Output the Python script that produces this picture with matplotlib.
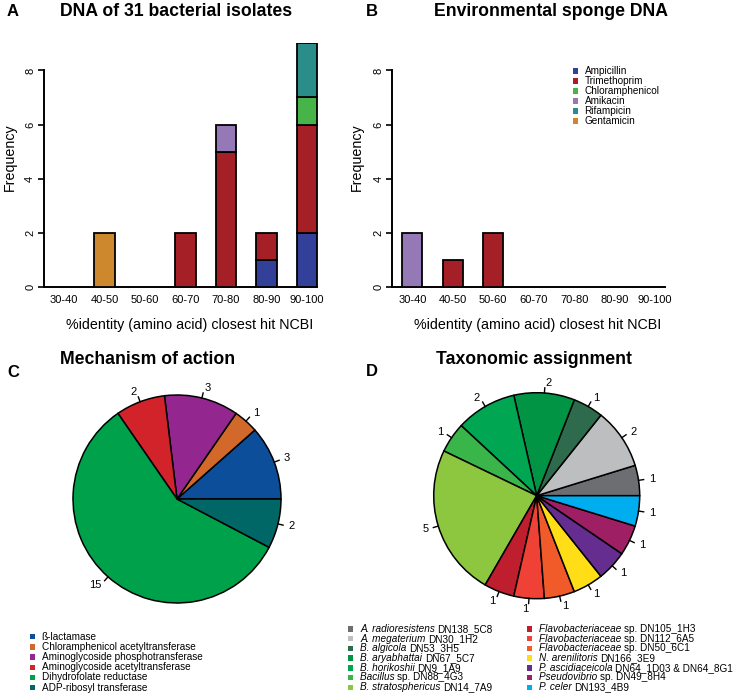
import numpy as np
import matplotlib
matplotlib.use('Agg')
import matplotlib.pyplot as plt
from matplotlib.patches import Rectangle

plt.rcParams['font.family'] = ['Liberation Sans', 'DejaVu Sans']

W, H = 743, 698

#%% data
bins = ['30-40', '40-50', '50-60', '60-70', '70-80', '80-90', '90-100']
antibiotics = ['Ampicillin', 'Trimethoprim', 'Chloramphenicol', 'Amikacin', 'Rifampicin', 'Gentamicin']
ab_colors = ['#33409a', '#a41f26', '#47b449', '#9479b6', '#2b8d8a', '#cd872c']

isolates_amp = [0, 0, 0, 0, 0, 1, 2]
isolates_tmp = [0, 0, 0, 2, 5, 1, 4]
isolates_chl = [0, 0, 0, 0, 0, 0, 1]
isolates_amk = [0, 0, 0, 0, 1, 0, 0]
isolates_rif = [0, 0, 0, 0, 0, 0, 2]
isolates_gen = [0, 2, 0, 0, 0, 0, 0]

sponge_amp = [0, 0, 0, 0, 0, 0, 0]
sponge_tmp = [0, 1, 2, 0, 0, 0, 0]
sponge_chl = [0, 0, 0, 0, 0, 0, 0]
sponge_amk = [2, 0, 0, 0, 0, 0, 0]
sponge_rif = [0, 0, 0, 0, 0, 0, 0]
sponge_gen = [0, 0, 0, 0, 0, 0, 0]

mech_labels = ['\u00df-lactamase', 'Chloramphenicol acetyltransferase',
               'Aminoglycoside phosphotransferase', 'Aminoglycoside acetyltransferase',
               'Dihydrofolate reductase', 'ADP-ribosyl transferase']
mech_counts = [3, 1, 3, 2, 15, 2]
mech_colors = ['#0d4e9b', '#d2692b', '#93278f', '#d2232a', '#00a14b', '#006766']

taxa_italic = ['A. radioresistens', 'A. megaterium', 'B. algicola', 'B. aryabhattai',
               'B. horikoshii', 'Bacillus', 'B. stratosphericus',
               'Flavobacteriaceae', 'Flavobacteriaceae', 'Flavobacteriaceae',
               'N. arenilitoris', 'P. ascidiaceicola', 'Pseudovibrio', 'P. celer']
taxa_rest = ['DN138_5C8', 'DN30_1H2', 'DN53_3H5', 'DN67_5C7', 'DN9_1A9', 'sp. DN88_4G3',
             'DN14_7A9', 'sp. DN105_1H3', 'sp. DN112_6A5', 'sp. DN50_6C1', 'DN166_3E9',
             'DN64_1D03 & DN64_8G1', 'sp. DN49_8H4', 'DN193_4B9']
taxa_counts = [1, 2, 1, 2, 2, 1, 5, 1, 1, 1, 1, 1, 1, 1]
taxa_colors = ['#6d6e71', '#bcbec0', '#2e6b4d', '#009444', '#00a651', '#39b54a', '#8dc63f',
               '#be1e2d', '#ef4136', '#f15a29', '#ffde17', '#662d91', '#9e1f63', '#00aeef']


def px_ax(x0, y_top, w, h):
    # axes from pixel box (top-left origin)
    return fig.add_axes([x0 / W, 1 - (y_top + h) / H, w / W, h / H])


def ftext(x, y, s, **kw):
    return fig.text(x / W, 1 - y / H, s, **kw)


def draw_key(x, y, labels, colors, step=10, size=7.2, italics=None):
    renderer = fig.canvas.get_renderer()
    for i, (lab, col) in enumerate(zip(labels, colors)):
        yy = y + i * step
        fig.patches.append(Rectangle((x / W, 1 - (yy + 2.7) / H), 5.4 / W, 5.4 / H,
                                     transform=fig.transFigure, facecolor=col,
                                     edgecolor='none'))
        if italics is None:
            ftext(x + 12, yy, lab, va='center', ha='left', fontsize=size)
        else:
            # italic name, then plain strain id right after it
            t = ftext(x + 12, yy, italics[i] + ' ', va='center', ha='left',
                      fontsize=size, fontstyle='italic')
            w = t.get_window_extent(renderer).width
            ftext(x + 12 + w, yy, lab, va='center', ha='left', fontsize=size)


def stacked(ax, stacks):
    xpos = 1.5 + 2 * np.arange(len(bins))
    bottom = np.zeros(len(bins))
    for vals, col in zip(stacks, ab_colors):
        vals = np.array(vals, dtype=float)
        lw = np.where(vals > 0, 1.3, 0)
        ax.bar(xpos, vals, width=1, bottom=bottom, color=col, edgecolor='black',
               linewidth=lw, zorder=3)
        bottom += vals
    ax.set_xlim(0.48, 14.52)
    ax.set_ylim(0, 9)
    ax.set_xticks(xpos)
    ax.set_xticklabels(bins, fontsize=8)
    ax.set_yticks([0, 2, 4, 6, 8])
    ax.set_yticklabels(['0', '2', '4', '6', '8'], fontsize=8, rotation=90, va='center')
    ax.tick_params(axis='x', length=0, pad=6)
    ax.tick_params(axis='y', length=4, width=1.2, pad=2)
    for s in ['top', 'right']:
        ax.spines[s].set_visible(False)
    ax.spines['left'].set_bounds(0, 8)
    ax.spines['bottom'].set_bounds(0.48, 14)
    ax.spines['left'].set_linewidth(1.4)
    ax.spines['bottom'].set_linewidth(1.4)
    ax.patch.set_alpha(0)


def pie_with_counts(ax, counts, colors):
    ax.pie(counts, colors=colors, startangle=0, counterclock=True, radius=1,
           wedgeprops=dict(edgecolor='black', linewidth=1.1))
    cum = np.cumsum([0] + list(counts))
    mids = (cum[:-1] + cum[1:]) / 2 / cum[-1] * 2 * np.pi
    for a, c in zip(mids, counts):
        ca, sa = np.cos(a), np.sin(a)
        ax.plot([ca, 1.05 * ca], [sa, 1.05 * sa], color='black', lw=1.0)
        ax.text(1.1 * ca, 1.1 * sa, str(c), fontsize=8,
                ha='left' if ca > 0 else 'right', va='center')
    ax.set_xlim(-1.3, 1.3)
    ax.set_ylim(-1.3, 1.3)
    ax.set_aspect('equal')
    ax.axis('off')


fig = plt.figure(figsize=(W / 100, H / 100), dpi=100)

#%% A
axA = px_ax(43.5, 43.3, 284, 243.7)
stacked(axA, [isolates_amp, isolates_tmp, isolates_chl, isolates_amk, isolates_rif, isolates_gen])
ftext(13, 12, 'A', fontsize=12, fontweight='bold', ha='center', va='center')
ftext(176.5, 12, 'DNA of 31 bacterial isolates', fontsize=12.7, fontweight='bold',
      ha='center', va='center')
ftext(9.5, 157, 'Frequency', fontsize=10.3, rotation=90, ha='center', va='center')
ftext(190, 325, '%identity (amino acid) closest hit NCBI', fontsize=10.3,
      ha='center', va='center')

#%% B
axB = px_ax(391.7, 43.3, 284, 243.7)
stacked(axB, [sponge_amp, sponge_tmp, sponge_chl, sponge_amk, sponge_rif, sponge_gen])
ftext(372, 12, 'B', fontsize=12, fontweight='bold', ha='center', va='center')
ftext(551.5, 12, 'Environmental sponge DNA', fontsize=12.7, fontweight='bold',
      ha='center', va='center')
ftext(357, 157, 'Frequency', fontsize=10.3, rotation=90, ha='center', va='center')
ftext(537.5, 325, '%identity (amino acid) closest hit NCBI', fontsize=10.3,
      ha='center', va='center')
draw_key(572.5, 71, antibiotics, ab_colors, step=10)

#%% C
r = 104
axC = px_ax(177 - 1.3 * r, 499 - 1.3 * r, 2.6 * r, 2.6 * r)
pie_with_counts(axC, mech_counts, mech_colors)
ftext(13, 372, 'C', fontsize=12, fontweight='bold', ha='center', va='center')
ftext(147.5, 359, 'Mechanism of action', fontsize=12.7, fontweight='bold',
      ha='center', va='center')
draw_key(29.5, 636.7, mech_labels, mech_colors, step=10.2)

#%% D
r = 103
axD = px_ax(536.7 - 1.3 * r, 495.7 - 1.3 * r, 2.6 * r, 2.6 * r)
pie_with_counts(axD, taxa_counts, taxa_colors)
ftext(372, 371, 'D', fontsize=12, fontweight='bold', ha='center', va='center')
ftext(533.5, 359, 'Taxonomic assignment', fontsize=12.7, fontweight='bold',
      ha='center', va='center')
draw_key(348, 629, taxa_rest[:7], taxa_colors[:7], step=9.7, italics=taxa_italic[:7])
draw_key(527, 629, taxa_rest[7:], taxa_colors[7:], step=9.7, italics=taxa_italic[7:])

plt.savefig('out.png', dpi=100)
